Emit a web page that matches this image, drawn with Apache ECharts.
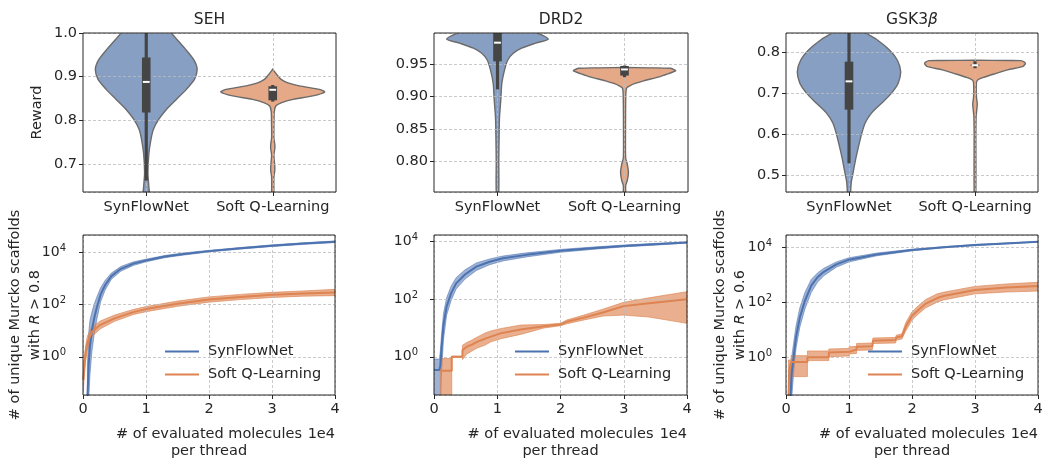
<!DOCTYPE html>
<html><head><meta charset="utf-8">
<script src="https://cdn.jsdelivr.net/npm/echarts@6/dist/echarts.min.js"></script>
<style>html,body{margin:0;padding:0;background:#fff}#c{width:1042px;height:462px}</style>
</head><body><div id="c"></div>
<script>
// ---------- data ----------
const methods = ['SynFlowNet', 'Soft Q-Learning'];
const panelTitles = ['SEH', 'DRD2', 'GSK3'];

// violin outlines: reward levels and half-widths (fraction of category band)
const sehSfnLevels = [1.05, 1.03, 1.0, 0.963, 0.94, 0.918, 0.895, 0.871, 0.848, 0.825, 0.802, 0.779, 0.756, 0.725, 0.68, 0.65, 0.62];
const sehSfnWidths = [0, 0.111, 0.198, 0.31, 0.373, 0.402, 0.383, 0.317, 0.238, 0.159, 0.098, 0.056, 0.037, 0.021, 0.013, 0.02, 0.024];
const sehSqLevels = [0.917, 0.902, 0.894, 0.886, 0.879, 0.871, 0.865, 0.856, 0.848, 0.84, 0.833, 0.82, 0.80, 0.76, 0.745, 0.735, 0.72, 0.695, 0.685, 0.67, 0.62];
const sehSqWidths = [0, 0.04, 0.066, 0.12, 0.21, 0.37, 0.41, 0.317, 0.16, 0.066, 0.024, 0.012, 0.01, 0.009, 0.016, 0.016, 0.009, 0.016, 0.016, 0.009, 0.007];

const drdSfnLevels = [1.01, 1.003, 0.9985, 0.989, 0.9825, 0.975, 0.967, 0.9567, 0.941, 0.9206, 0.895, 0.869, 0.843, 0.80, 0.75];
const drdSfnWidths = [0, 0.236, 0.315, 0.4, 0.294, 0.189, 0.124, 0.081, 0.055, 0.034, 0.026, 0.016, 0.013, 0.01, 0.009];
const drdSqLevels = [0.9452, 0.9445, 0.9438, 0.9415, 0.9397, 0.9355, 0.9309, 0.9275, 0.9242, 0.92, 0.917, 0.913, 0.90, 0.85, 0.805, 0.795, 0.7825, 0.77, 0.762, 0.75];
const drdSqWidths = [0, 0.197, 0.362, 0.394, 0.402, 0.346, 0.281, 0.213, 0.15, 0.079, 0.045, 0.016, 0.01, 0.008, 0.009, 0.022, 0.031, 0.022, 0.009, 0.008];

const gskSfnLevels = [0.875, 0.865, 0.848, 0.831, 0.806, 0.782, 0.754, 0.726, 0.702, 0.677, 0.653, 0.629, 0.605, 0.573, 0.54, 0.508, 0.484, 0.462, 0.44];
const gskSfnWidths = [0, 0.063, 0.133, 0.225, 0.323, 0.383, 0.41, 0.391, 0.339, 0.26, 0.18, 0.129, 0.103, 0.077, 0.053, 0.033, 0.018, 0.013, 0.004];
const gskSqLevels = [0.7815, 0.781, 0.7805, 0.7775, 0.774, 0.770, 0.766, 0.758, 0.748, 0.740, 0.734, 0.728, 0.71, 0.69, 0.675, 0.66, 0.645, 0.6, 0.45];
const gskSqWidths = [0, 0.278, 0.365, 0.389, 0.4, 0.393, 0.377, 0.258, 0.151, 0.071, 0.024, 0.012, 0.01, 0.012, 0.018, 0.014, 0.009, 0.007, 0.006];

// box stats: [whisker low, q1, median, q3, whisker high]
const sehBoxes = [[0.662, 0.818, 0.888, 0.944, 1.05], [0.843, 0.846, 0.870, 0.878, 0.881]];
const drdBoxes = [[0.911, 0.9546, 0.9835, 1.0, 1.01], [0.930, 0.9325, 0.942, 0.9474, 0.948]];
const gskBoxes = [[0.530, 0.661, 0.730, 0.778, 0.9], [0.762, 0.7675, 0.7694, 0.7715, 0.779]];

// scaffold curves (x in units of 1e4 molecules; mean, lower, upper)
const sehSfnX = [0.07, 0.09, 0.11, 0.14, 0.18, 0.22, 0.28, 0.35, 0.45, 0.6, 0.8, 1.0, 1.3, 1.6, 2.0, 2.5, 3.0, 3.5, 4.0];
const sehSfnMid = [0.025, 0.5, 2.5, 10, 32, 79, 250, 560, 1260, 2400, 3800, 5000, 7100, 8900, 11500, 14800, 18600, 22400, 26300];
const sehSfnLo = [0.002, 0.02, 0.2, 1.5, 8, 28, 130, 360, 950, 1950, 3250, 4450, 6450, 8130, 10700, 13800, 17400, 20900, 24500];
const sehSfnHi = [0.5, 8, 25, 50, 110, 200, 450, 850, 1650, 2950, 4450, 5650, 7800, 9800, 12300, 15800, 20000, 24000, 28200];
const sehSqX = [0.005, 0.02, 0.04, 0.07, 0.14, 0.27, 0.5, 0.8, 1.0, 1.5, 2.0, 2.5, 3.0, 3.5, 4.0];
const sehSqMid = [0.13, 0.4, 1.26, 3.5, 8.9, 16.6, 30, 52, 68, 110, 158, 200, 240, 270, 295];
const sehSqLo = [0.05, 0.18, 0.63, 2, 5.9, 11.7, 23, 42, 54, 87, 126, 158, 190, 214, 224];
const sehSqHi = [0.32, 0.9, 2.5, 6.3, 13.5, 23.4, 40, 66, 85, 138, 200, 250, 300, 340, 390];

const drdSfnX = [0, 0.085, 0.1, 0.12, 0.15, 0.2, 0.27, 0.35, 0.49, 0.67, 0.88, 1.09, 1.46, 2.0, 2.5, 3.0, 3.5, 4.0];
const drdSfnMid = [0.35, 0.35, 0.5, 2, 12.6, 56, 160, 355, 720, 1350, 2000, 2630, 3470, 4800, 5900, 7100, 8100, 9300];
const drdSfnLo = [0.01, 0.01, 0.01, 0.32, 4, 28, 89, 224, 500, 1000, 1580, 2140, 2950, 4270, 5370, 6600, 7600, 8900];
const drdSfnHi = [0.83, 0.83, 1.6, 6.3, 32, 112, 280, 560, 1050, 1820, 2500, 3160, 4070, 5370, 6460, 7600, 8700, 9800];
const drdSqX = [0.1, 0.28, 0.28, 0.45, 0.45, 0.52, 0.6, 0.68, 0.8, 0.9, 1.05, 1.37, 1.74, 2.0, 2.1, 2.37, 2.67, 3.0, 3.4, 4.0];
const drdSqMid = [0.33, 0.33, 1, 1, 1.7, 2.24, 2.63, 3.3, 4.2, 5, 6.5, 8.9, 11.5, 13.2, 16.6, 22.9, 34.7, 57.5, 72.4, 100];
const drdSqLo = [0.01, 0.01, 0.95, 0.95, 0.8, 1.26, 1.58, 2, 2.5, 3.3, 4.2, 6, 10, 12, 14, 19, 26, 28, 24, 14.5];
const drdSqHi = [0.87, 0.87, 1.05, 1.05, 2.5, 3.16, 3.8, 4.8, 6.6, 7.9, 9.5, 12.6, 13.2, 14.5, 19, 28, 45, 78, 112, 182];

const gskSfnX = [0.07, 0.09, 0.12, 0.16, 0.22, 0.30, 0.40, 0.5, 0.6, 0.8, 1.0, 1.44, 2.0, 2.5, 3.0, 3.5, 4.0];
const gskSfnMid = [0.032, 0.25, 1, 5.6, 28, 112, 400, 800, 1260, 2340, 3470, 5370, 7760, 9770, 11750, 13500, 15500];
const gskSfnLo = [0.003, 0.032, 0.25, 2.2, 12.6, 56, 224, 525, 910, 1860, 2880, 4790, 7240, 9330, 11200, 13200, 15100];
const gskSfnHi = [0.32, 1, 3.2, 14, 63, 224, 660, 1150, 1700, 2880, 4070, 6030, 8320, 10200, 12300, 14100, 15800];
const gskSqX = [0.04, 0.05, 0.08, 0.08, 0.34, 0.34, 0.68, 0.68, 1.0, 1.0, 1.12, 1.12, 1.37, 1.38, 1.74, 1.75, 1.84, 1.9, 2.0, 2.1, 2.22, 2.4, 2.5, 3.0, 3.5, 4.0];
const gskSqMid = [0.03, 0.33, 0.33, 0.67, 0.67, 1.0, 1.0, 1.5, 1.6, 1.8, 1.9, 2.4, 2.5, 4, 4.2, 5.2, 5.8, 12.6, 32, 52, 89, 141, 166, 275, 339, 389];
const gskSqLo = [0.001, 0.001, 0.001, 0.2, 0.2, 0.76, 0.76, 1.05, 1.12, 1.32, 1.38, 1.78, 1.86, 3.16, 3.3, 4.2, 4.6, 8.9, 22.4, 37, 63, 100, 120, 200, 234, 251];
const gskSqHi = [0.8, 0.8, 0.8, 1.15, 1.15, 1.7, 1.7, 2, 2.1, 2.4, 2.5, 3.16, 3.3, 5, 5.25, 6.3, 7.1, 17.8, 44.7, 74, 126, 200, 229, 372, 457, 525];

// axis ranges
const rewardRanges = [[0.636, 1.0], [0.752, 0.9985], [0.46, 0.848]];
const countRanges = [[0.034, 47900], [0.047, 17000], [0.043, 27200]];
const rewardDecimals = [1, 2, 1];
const thresholds = ['0.8', null, '0.6'];

// ---------- style ----------
const FONT = 'DejaVu Sans';
const TXT = '#262626';
const GRIDC = '#bdbdbd';
const FS = 14.5;
const violinFill = ['#889fc4', '#e6a987'];
const lineColor = ['#4c72b0', '#dd8452'];
const bandColor = ['rgba(76,114,176,0.55)', 'rgba(221,132,82,0.65)'];

const topGrids = [
  {left: 83, top: 33, width: 253, height: 159},
  {left: 434, top: 33, width: 254, height: 159},
  {left: 786, top: 33, width: 252, height: 159}
];
const botGrids = [
  {left: 83, top: 235, width: 252, height: 160},
  {left: 434, top: 235, width: 253, height: 160},
  {left: 786, top: 235, width: 252, height: 160}
];

const violins = [
  [[sehSfnLevels, sehSfnWidths], [sehSqLevels, sehSqWidths]],
  [[drdSfnLevels, drdSfnWidths], [drdSqLevels, drdSqWidths]],
  [[gskSfnLevels, gskSfnWidths], [gskSqLevels, gskSqWidths]]
];
const boxes = [sehBoxes, drdBoxes, gskBoxes];
const curves = [
  [[sehSfnX, sehSfnMid, sehSfnLo, sehSfnHi], [sehSqX, sehSqMid, sehSqLo, sehSqHi]],
  [[drdSfnX, drdSfnMid, drdSfnLo, drdSfnHi], [drdSqX, drdSqMid, drdSqLo, drdSqHi]],
  [[gskSfnX, gskSfnMid, gskSfnLo, gskSfnHi], [gskSqX, gskSqMid, gskSqLo, gskSqHi]]
];

function clipOf(cs) {
  return {type: 'rect', shape: {x: cs.x, y: cs.y, width: cs.width, height: cs.height}};
}

function violinRender(shapes) {
  return function (params, api) {
    const i = params.dataIndex;
    const lv = shapes[i][0], wd = shapes[i][1];
    const bw = api.size([1, 0])[0];
    const right = [], left = [];
    for (let k = 0; k < lv.length; k++) {
      const c = api.coord([i, lv[k]]);
      right.push([c[0] + wd[k] * bw, c[1]]);
      left.push([c[0] - wd[k] * bw, c[1]]);
    }
    const pts = right.concat(left.reverse());
    return {
      type: 'group',
      clipPath: clipOf(params.coordSys),
      children: [
        {type: 'polygon', shape: {points: pts, smooth: 0.25}, style: {fill: violinFill[i], stroke: '#6b6b6b', lineWidth: 1.4}}
      ]
    };
  };
}

function boxRender(bx) {
  return function (params, api) {
    const i = params.dataIndex;
    const b = bx[i];
    const cx = api.coord([i, b[2]])[0];
    const yv = b.map(v => api.coord([i, v])[1]);
    return {
      type: 'group',
      clipPath: clipOf(params.coordSys),
      children: [
        {type: 'line', shape: {x1: cx, y1: yv[0], x2: cx, y2: yv[4]}, style: {stroke: '#454545', lineWidth: 3.2}},
        {type: 'rect', shape: {x: cx - 4.3, y: yv[3], width: 8.6, height: yv[1] - yv[3]}, style: {fill: '#454545'}},
        {type: 'line', shape: {x1: cx - 3.4, y1: yv[2], x2: cx + 3.4, y2: yv[2]}, style: {stroke: '#ffffff', lineWidth: 2}}
      ]
    };
  };
}

function bandRender(xs, lo, hi, color) {
  return function (params, api) {
    if (params.dataIndex !== 0) return null;
    const up = [], dn = [];
    for (let k = 0; k < xs.length; k++) {
      up.push(api.coord([xs[k], hi[k]]));
      dn.push(api.coord([xs[k], lo[k]]));
    }
    return {
      type: 'group',
      clipPath: clipOf(params.coordSys),
      children: [{type: 'polygon', shape: {points: up.concat(dn.reverse())}, style: {fill: color, stroke: color, lineWidth: 1}}]
    };
  };
}

const grid = [];
const xAxis = [];
const yAxis = [];
const series = [];
const tickLabel = {fontFamily: FONT, fontSize: FS, color: TXT};
const splitStyle = {show: true, lineStyle: {color: GRIDC, type: [3, 2], width: 0.8}};
const tickStyle = {show: true, length: 4, lineStyle: {color: TXT, width: 1}};
const gridBase = {show: true, z: 10, backgroundColor: 'rgba(0,0,0,0)', borderColor: TXT, borderWidth: 1,
  containLabel: false, outerBoundsMode: 'none'};

for (let p = 0; p < 3; p++) {
  grid.push(Object.assign({}, gridBase, topGrids[p]));
  xAxis.push({
    type: 'category', gridIndex: p, data: methods, boundaryGap: true, z: 3,
    axisLine: {show: false},
    axisTick: Object.assign({alignWithLabel: true}, tickStyle),
    axisLabel: Object.assign({margin: 8, interval: 0}, tickLabel),
    splitLine: Object.assign({alignWithLabel: true}, splitStyle)
  });
  const dec = rewardDecimals[p];
  yAxis.push({
    type: 'value', gridIndex: p, min: rewardRanges[p][0], max: rewardRanges[p][1], splitNumber: 5, z: 3,
    axisLine: {show: false}, axisTick: tickStyle,
    axisLabel: Object.assign({margin: 6, showMinLabel: false, showMaxLabel: p === 0, formatter: v => v.toFixed(dec)}, tickLabel),
    splitLine: splitStyle,
    name: p === 0 ? 'Reward' : '', nameLocation: 'middle', nameGap: 38, nameRotate: 90, nameMoveOverlap: false,
    nameTextStyle: tickLabel
  });
  series.push({
    type: 'custom', name: 'violin' + p, xAxisIndex: p, yAxisIndex: p, z: 2,
    renderItem: violinRender(violins[p]),
    encode: {x: 0, y: 1},
    data: [[0, boxes[p][0][2]], [1, boxes[p][1][2]]]
  });
  series.push({
    type: 'custom', name: 'box' + p, xAxisIndex: p, yAxisIndex: p, z: 5,
    renderItem: boxRender(boxes[p]),
    encode: {x: 0, y: 1},
    data: [[0, boxes[p][0][2]], [1, boxes[p][1][2]]]
  });
}

function logFmt(v) {
  const e = Math.round(Math.log10(v));
  return '{b|10}{s|' + e + '}';
}

const logMargins = [17, 16, 14];
const yNameGaps = [38, 0, 36];
for (let p = 0; p < 3; p++) {
  const gi = 3 + p;
  grid.push(Object.assign({}, gridBase, botGrids[p]));
  xAxis.push({
    type: 'value', gridIndex: gi, min: 0, max: 4, interval: 1, z: 2,
    axisLine: {show: false}, axisTick: tickStyle,
    axisLabel: Object.assign({margin: 7}, tickLabel),
    splitLine: splitStyle,
    name: '# of evaluated molecules\nper thread', nameLocation: 'middle', nameGap: 30, nameMoveOverlap: false,
    nameTextStyle: Object.assign({lineHeight: 17.5}, tickLabel)
  });
  const th = thresholds[p];
  yAxis.push({
    type: 'log', logBase: 100, gridIndex: gi, min: countRanges[p][0], max: countRanges[p][1], z: 2,
    axisLine: {show: false}, axisTick: tickStyle, minorTick: {show: false}, minorSplitLine: {show: false},
    axisLabel: {
      margin: logMargins[p], showMinLabel: false, showMaxLabel: false, formatter: logFmt, color: TXT,
      rich: {
        b: {fontFamily: FONT, fontSize: 14, lineHeight: 18, color: TXT},
        s: {fontFamily: FONT, fontSize: 10, lineHeight: 10, verticalAlign: 'top', color: TXT}
      }
    },
    splitLine: splitStyle,
    name: th ? '# of unique Murcko scaffolds\nwith {i|R} > ' + th : '',
    nameLocation: 'middle', nameGap: yNameGaps[p], nameRotate: 90, nameMoveOverlap: false,
    nameTextStyle: Object.assign({lineHeight: 20, rich: {i: {fontFamily: FONT, fontSize: FS, fontStyle: 'italic', color: TXT, lineHeight: 20}}}, tickLabel)
  });
  for (let m = 0; m < 2; m++) {
    const c = curves[p][m];
    series.push({
      type: 'custom', name: methods[m] + ' band ' + p, xAxisIndex: gi, yAxisIndex: gi, z: 1,
      renderItem: bandRender(c[0], c[2], c[3], bandColor[m]),
      encode: {x: 0, y: [1, 2]},
      data: c[0].map((x, k) => [x, c[2][k], c[3][k]])
    });
  }
  for (let m = 0; m < 2; m++) {
    const c = curves[p][m];
    series.push({
      type: 'line', name: methods[m], xAxisIndex: gi, yAxisIndex: gi, z: 4,
      symbol: 'none', showSymbol: false, clip: true, animation: false,
      lineStyle: {color: lineColor[m], width: 2},
      itemStyle: {color: lineColor[m]},
      data: c[0].map((x, k) => [x, c[1][k]])
    });
  }
}

const legendLefts = [164, 514, 867];
const legend = legendLefts.map(l => ({
  left: l, top: 344, orient: 'vertical', itemWidth: 34, itemHeight: 14, itemGap: 8, padding: 0,
  selectedMode: false, data: methods,
  itemStyle: {opacity: 0},
  textStyle: {fontFamily: FONT, fontSize: FS, color: TXT, padding: [0, 0, 0, 4]}
}));

const titleCenters = [209.5, 561, 912];
const graphic = [];
for (let p = 0; p < 3; p++) {
  graphic.push({
    type: 'text', x: titleCenters[p], y: 19.5, silent: true,
    style: {
      text: p === 2 ? 'GSK3{i|β}' : panelTitles[p],
      align: 'center', verticalAlign: 'middle', fontFamily: FONT, fontSize: 15.5, fill: TXT,
      rich: {i: {fontFamily: FONT, fontSize: 15.5, fontStyle: 'italic', fill: TXT}}
    }
  });
  const g = botGrids[p];
  graphic.push({
    type: 'text', x: g.left + g.width, y: 434, silent: true,
    style: {text: '1e4', align: 'right', verticalAlign: 'middle', fontFamily: FONT, fontSize: FS, fill: TXT}
  });
}

const chart = echarts.init(document.getElementById('c'), null, {renderer: 'canvas'});
chart.setOption({
  animation: false,
  backgroundColor: '#ffffff',
  textStyle: {fontFamily: FONT},
  grid, xAxis, yAxis, series, legend, graphic
});
</script>
</body></html>
